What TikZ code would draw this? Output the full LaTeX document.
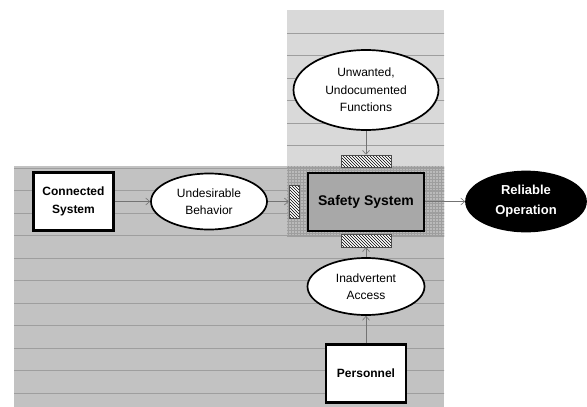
\documentclass[tikz,border=0pt]{standalone}
\usepackage{fontspec}
\setmainfont{Liberation Sans}
\usetikzlibrary{arrows.meta,shapes.geometric,patterns}

\tikzset{
  box/.style={draw, line width=2.4pt, fill=white, minimum width=80pt, minimum height=58pt,
    align=center, font=\bfseries\fontsize{12}{18}\selectfont},
  oval/.style={ellipse, draw, line width=1.7pt, fill=white, inner sep=0pt,
    align=center, font=\fontsize{12}{17.5}\selectfont},
  hatch/.style={draw=black!70, line width=0.5pt, preaction={fill=white},
    pattern=north west lines, inner sep=0pt},
  flow/.style={draw=black!55, line width=0.6pt, -{Straight Barb[length=4pt,width=7pt]}},
  sepline/.style={black!38, line width=0.8pt}
}

\begin{document}
\begin{tikzpicture}[x=1pt,y=-1pt]
\useasboundingbox (0,0) rectangle (587,407);
% shaded zones
\fill[black!15] (287,10) rectangle (444,166);
\fill[black!24] (14,166) rectangle (444,407);
\fill[black!27] (287,166) rectangle (444,236);
\fill[pattern=grid, pattern color=black!38] (287,166) rectangle (444,236);
\begin{scope}
\clip (287,10) -- (444,10) -- (444,407) -- (14,407) -- (14,166) -- (287,166) -- cycle;
\foreach \y in {33,55.5,...,393}
  \draw[sepline] (0,\y) -- (587,\y);
\end{scope}

% main blocks
\node[box, minimum width=116pt, fill=black!34, line width=2pt,
  font=\bfseries\fontsize{14}{17}\selectfont] (saf) at (366,201.5) {Safety System};
\node[box] (con) at (73.5,201.5) {Connected\\System};
\node[box] (per) at (366,373.5) {Personnel};

% hazards
\node[oval, minimum width=116pt, minimum height=56pt] (und) at (209,201.5) {Undesirable\\Behavior};
\node[oval, minimum width=145pt, minimum height=80pt] (unw) at (366,90) {Unwanted,\\Undocumented\\Functions};
\node[oval, minimum width=117pt, minimum height=57pt] (ina) at (366,286.5) {Inadvertent\\Access};
\node[oval, minimum width=120pt, minimum height=60pt, fill=black, text=white,
  font=\bfseries\fontsize{13}{20}\selectfont] (rel) at (526,201.5) {Reliable\\Operation};

% barriers
\node[hatch, minimum width=10pt, minimum height=33pt] (hl) at (294,201.5) {};
\node[hatch, minimum width=50pt, minimum height=12pt] (ht) at (366,161) {};
\node[hatch, minimum width=50pt, minimum height=13pt] (hb) at (366,240.5) {};

% flows
\draw[flow] (con) -- (und);
\draw[flow] (und) -- (hl);
\draw[flow] (saf) -- (rel);
\draw[flow] (unw) -- (ht);
\draw[flow] (ina) -- (hb);
\draw[flow] (per) -- (ina);
\end{tikzpicture}
\end{document}
